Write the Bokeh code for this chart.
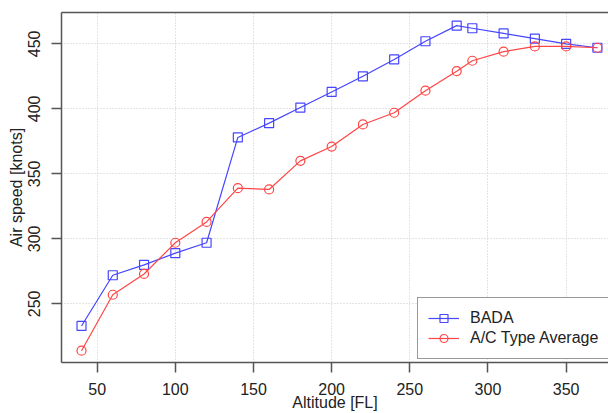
from bokeh.plotting import figure
from bokeh.models import LinearAxis, FixedTicker, Range1d
from bokeh.embed import file_html
from bokeh.resources import INLINE

# Data
altitude = [40, 60, 80, 100, 120, 140, 160, 180, 200, 220, 240, 260, 280, 290, 310, 330, 350, 370]
bada = [233, 272, 280, 289, 297, 378, 389, 401, 413, 425, 438, 452, 464, 462, 458, 454, 450, 447]
type_avg = [214, 257, 273, 297, 313, 339, 338, 360, 371, 388, 397, 414, 429, 437, 444, 448, 448, 447]

FONT = "Liberation Sans"
AXIS_COL = "#555555"

p = figure(width=608, height=413,
           x_range=Range1d(27.2, 377.1), y_range=Range1d(204.9, 474.1),
           output_backend="svg", toolbar_location=None,
           min_border_left=61, min_border_right=0, min_border_top=12, min_border_bottom=51,
           x_axis_label="Altitude [FL]", y_axis_label="Air speed [knots]")

p.outline_line_color = None
p.background_fill_color = "white"
p.border_fill_color = "white"

for ax in (p.xaxis[0], p.yaxis[0]):
    ax.axis_line_color = AXIS_COL
    ax.axis_line_width = 1.5
    ax.major_tick_line_color = AXIS_COL
    ax.major_tick_line_width = 1.5
    ax.major_tick_in = 0
    ax.major_tick_out = 10
    ax.minor_tick_line_color = None
    ax.major_label_text_font = FONT
    ax.major_label_text_font_size = "16px"
    ax.major_label_text_color = "#222222"
    ax.axis_label_text_font = FONT
    ax.axis_label_text_font_size = "16px"
    ax.axis_label_text_font_style = "normal"
    ax.axis_label_text_color = "#222222"
    ax.major_label_standoff = 10
    ax.axis_label_standoff = 1

p.xaxis[0].axis_label_standoff = -4
p.yaxis[0].major_label_orientation = "vertical"
p.yaxis[0].major_label_standoff = 11

top = LinearAxis(ticker=FixedTicker(ticks=[]), major_tick_in=0, major_tick_out=0,
                 minor_tick_in=0, minor_tick_out=0, axis_line_color=AXIS_COL,
                 axis_line_width=1.5, major_label_text_font_size="0px")
p.add_layout(top, "above")

p.grid.grid_line_color = "#c8c8c8"
p.grid.grid_line_dash = "1 2"
p.grid.grid_line_width = 1

BLUE = "#4646ff"
RED = "#ff4646"

p.line(altitude, bada, line_color=BLUE, line_width=1.2, legend_label="BADA")
p.scatter(altitude, bada, marker="square", size=9, fill_color=None,
          line_color=BLUE, line_width=1.2, legend_label="BADA")
p.line(altitude, type_avg, line_color=RED, line_width=1.2, legend_label="A/C Type Average")
p.scatter(altitude, type_avg, marker="circle", size=9, fill_color=None,
          line_color=RED, line_width=1.2, legend_label="A/C Type Average")

lg = p.legend[0]
lg.location = (356, 3)
lg.padding = 10
lg.spacing = 0
lg.margin = 0
lg.label_height = 20
lg.glyph_height = 20
lg.glyph_width = 31
lg.label_standoff = 11
lg.label_text_font = FONT
lg.label_text_font_size = "16px"
lg.label_text_color = "#222222"
lg.border_line_color = "#333333"
lg.border_line_width = 1
lg.background_fill_color = "white"
lg.background_fill_alpha = 1.0

open("out.html", "w").write(file_html(p, INLINE))
